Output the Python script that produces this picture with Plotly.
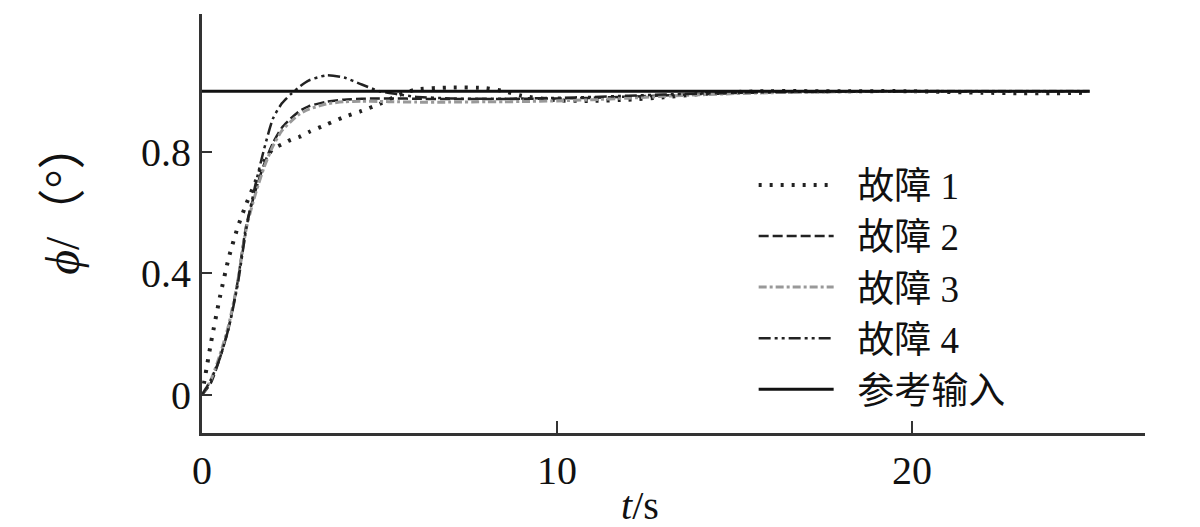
import plotly.graph_objects as go

# time samples (s)
t = [0, 0.25, 0.5, 0.75, 1.0, 1.25, 1.5, 1.75, 2.0, 2.25, 2.5, 2.75, 3.0, 3.5, 4.0, 4.5, 5.0, 5.5,
     6.0, 7.0, 8.0, 8.5, 9.0, 10.0, 11.0, 12.0, 13.0, 14.0, 15.0, 16.0, 18.0, 20.0, 22.0, 23.0, 24.0, 25.0]

fault1 = [0, 0.17, 0.32, 0.45, 0.55, 0.63, 0.70, 0.77, 0.81, 0.825, 0.84, 0.85, 0.865, 0.89, 0.915, 0.935, 0.958, 0.985,
          1.005, 1.012, 1.01, 1.0, 0.985, 0.97, 0.968, 0.972, 0.98, 0.99, 0.997, 1.0, 1.0, 1.0, 0.995, 0.993, 0.993, 0.995]
fault2 = [0, 0.04, 0.12, 0.22, 0.37, 0.56, 0.67, 0.76, 0.83, 0.88, 0.91, 0.935, 0.95, 0.965, 0.972, 0.975, 0.976, 0.976,
          0.975, 0.974, 0.974, 0.974, 0.975, 0.976, 0.978, 0.982, 0.986, 0.99, 0.994, 0.996, 0.998, 1.0, 1.0, 1.0, 1.0, 1.0]
fault3 = [0, 0.05, 0.13, 0.23, 0.37, 0.55, 0.66, 0.75, 0.82, 0.87, 0.90, 0.925, 0.94, 0.958, 0.965, 0.967, 0.966, 0.965,
          0.964, 0.964, 0.965, 0.965, 0.966, 0.968, 0.972, 0.977, 0.983, 0.988, 0.992, 0.995, 0.998, 1.0, 1.0, 1.0, 1.0, 1.0]
fault4 = [0, 0.05, 0.12, 0.22, 0.36, 0.55, 0.69, 0.81, 0.91, 0.96, 0.99, 1.015, 1.035, 1.052, 1.045, 1.022, 1.0, 0.99,
          0.982, 0.976, 0.975, 0.975, 0.976, 0.978, 0.981, 0.985, 0.989, 0.992, 0.995, 0.997, 0.999, 1.0, 1.0, 1.0, 1.0, 1.0]
reference = [1.0] * len(t)

names = ["故障 1", "故障 2", "故障 3", "故障 4", "参考输入"]
x_ticks = [0, 10, 20]
y_ticks = [0, 0.4, 0.8]
y_tick_labels = ["0", "0.4", "0.8"]

FONT = "Liberation Serif, Times New Roman, Noto Sans CJK SC, serif"

fig = go.Figure()
styles = [
    (fault1, dict(color="#222", width=4, dash="3px,8px")),
    (fault2, dict(color="#222", width=2.5, dash="10px,4px")),
    (fault3, dict(color="#999", width=3, dash="8px,3px,3px,3px")),
    (fault4, dict(color="#222", width=2.5, dash="12px,4px,3px,4px,3px,4px")),
    (reference, dict(color="#111", width=3)),
]
for name, (ys, line) in zip(names, styles):
    fig.add_trace(go.Scatter(x=t, y=ys, mode="lines", name="\u00a0" * 2 + name,
                             line=dict(shape="spline", smoothing=0.6, **line)))

fig.update_layout(
    width=1200, height=527,
    margin=dict(l=202, r=55, t=14, b=94),
    plot_bgcolor="white", paper_bgcolor="white",
    font=dict(family=FONT, size=40, color="#111"),
    showlegend=True,
    legend=dict(x=0.585, y=0.665, xanchor="left", yanchor="top",
                bgcolor="rgba(0,0,0,0)", font=dict(size=37, family=FONT),
                tracegroupgap=0, itemwidth=75),
    xaxis=dict(range=[0, 26.56], tickvals=x_ticks, ticks="inside", ticklen=12, tickwidth=2,
               tickcolor="#333", showline=True, linecolor="#333", linewidth=3, showgrid=False,
               zeroline=False, tickfont=dict(size=40), automargin=False),
    yaxis=dict(range=[-0.125, 1.254], tickvals=y_ticks, ticktext=y_tick_labels, ticks="inside",
               ticklen=10, tickwidth=2, tickcolor="#333", showline=True, linecolor="#333",
               linewidth=3, showgrid=False, zeroline=False, tickfont=dict(size=40), automargin=False),
    annotations=[
        dict(text="<i>t</i>/s", xref="paper", yref="paper", x=0.465, y=-0.172,
             xanchor="center", yanchor="middle", showarrow=False, font=dict(size=40)),
        dict(text="<i>ϕ</i>/（°）", xref="paper", yref="paper", x=-0.148, y=0.56,
             xanchor="center", yanchor="middle", textangle=-90, showarrow=False, font=dict(size=48)),
    ],
)

fig.write_html("out.html", config={"displayModeBar": False},
               post_script="document.body.style.margin='0';")
